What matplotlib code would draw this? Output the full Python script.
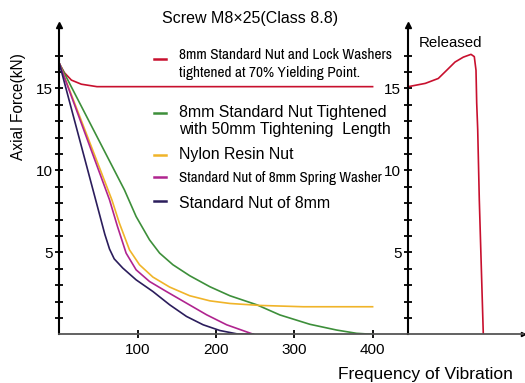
import numpy as np
import matplotlib.pyplot as plt
from matplotlib.lines import Line2D

plt.rcParams['font.family'] = ['Liberation Sans', 'DejaVu Sans']

# データ (振動回数 vs 軸力)
red_x = [0, 6.4, 15.3, 28, 48, 400]
red_y = [16.5, 15.95, 15.5, 15.25, 15.1, 15.1]

green_x = [0, 83.1, 98, 115.1, 128, 145, 166.5, 192.2, 217.8, 252.1, 281.6, 319.9, 354, 379.5, 400]
green_y = [16.5, 8.8, 7.18, 5.76, 4.95, 4.24, 3.57, 2.9, 2.35, 1.8, 1.18, 0.61, 0.26, 0.06, 0.0]

yellow_x = [0, 67, 76.6, 89.5, 102.3, 119.4, 140.8, 166.5, 192.2, 217.8, 256.3, 311.4, 400]
yellow_y = [16.5, 8.2, 6.78, 5.15, 4.24, 3.49, 2.88, 2.35, 2.04, 1.88, 1.76, 1.68, 1.68]

purple_x = [0, 64, 74, 85.2, 98, 115.1, 136.6, 162.3, 188, 213.6, 247.8]
purple_y = [16.5, 8.2, 6.6, 4.95, 3.93, 3.22, 2.61, 1.9, 1.19, 0.58, 0.0]

navy_x = [0, 58, 64, 70, 80.9, 98, 119.4, 140.8, 162.3, 183.6, 205, 226.4, 247.8]
navy_y = [16.5, 6.1, 5.2, 4.6, 4.04, 3.32, 2.61, 1.8, 1.09, 0.58, 0.23, 0.03, 0.0]

# 緩み後 (Released)
rel_x = [0, 17, 30, 38.4, 46.7, 55, 62.7, 66, 67.7, 68.4, 69.4, 71, 75]
rel_y = [15.1, 15.3, 15.6, 16.1, 16.6, 16.9, 17.07, 16.93, 16.1, 14.1, 12.5, 8.2, 0.0]

c_red = '#c8102e'
c_green = '#3d8f3a'
c_yellow = '#f0b429'
c_purple = '#b0248f'
c_navy = '#2b1d5c'
c_axis = '#555555'

fig = plt.figure(figsize=(5.25, 3.83), dpi=100)
y0 = 334.3
bot = 1 - y0 / 383
hgt = (y0 - 25) / 383
ax1 = fig.add_axes([59.4 / 525, bot, (408.3 - 59.4) / 525, hgt])
ax2 = fig.add_axes([408.3 / 525, bot, (523 - 408.3) / 525, hgt])

lw = 1.2
ax1.plot(red_x, red_y, color=c_red, lw=lw)
ax1.plot(green_x, green_y, color=c_green, lw=lw)
ax1.plot(yellow_x, yellow_y, color=c_yellow, lw=lw)
ax1.plot(purple_x, purple_y, color=c_purple, lw=lw)
ax1.plot(navy_x, navy_y, color=c_navy, lw=lw)
ax2.plot(rel_x, rel_y, color=c_red, lw=lw)

ymax = (y0 - 25) / 16.4
for ax in (ax1, ax2):
    ax.set_ylim(0, ymax)
    ax.spines['top'].set_visible(False)
    ax.spines['right'].set_visible(False)
    ax.spines['bottom'].set_color(c_axis)
    ax.spines['bottom'].set_linewidth(1.3)
    ax.spines['left'].set_linewidth(1.5)
    ax.set_yticks([5, 10, 15])
    ax.set_yticks([1, 2, 3, 4, 6, 7, 8, 9, 11, 12, 13, 14, 16, 17], minor=True)
    ax.tick_params(axis='y', which='both', direction='inout', length=6, width=1.3,
                   labelsize=11, pad=2)
    ax.set_facecolor('none')
    # 矢印
    ax.plot([0], [1], marker='^', color='black', markersize=5,
            transform=ax.transAxes, clip_on=False)

ax1.set_xlim(0, (408.3 - 59.4) / 0.783)
ax1.set_xticks([100, 200, 300, 400])
ax1.set_xticklabels(['100', '200', '300', '400'])
ax1.tick_params(axis='x', direction='inout', length=6, width=1.3, labelsize=11, pad=3)

ax2.set_xlim(0, 523 - 408.3)
ax2.set_xticks([])
ax2.plot([1], [0], marker='>', color='black', markersize=3,
         transform=ax2.transAxes, clip_on=False)

ax1.set_ylabel('Axial Force(kN)', fontsize=11.2)
ax1.yaxis.set_label_coords((26 - 59.4) / 348.9, (y0 - 107) / (y0 - 25))

fig.text(250 / 525, 1 - 19 / 383, 'Screw M8\u00d725(Class 8.8)', fontsize=11.5,
         ha='center', va='center')
fig.text(450 / 525, 1 - 43 / 383, 'Released', fontsize=10.8, ha='center', va='center')
fig.text(425 / 525, 1 - 375 / 383, 'Frequency of Vibration', fontsize=12.5,
         ha='center', va='center')

# 凡例
narrow = ['Archivo Narrow', 'Liberation Sans', 'DejaVu Sans']
legend = [
    (c_red, 59, ['8mm Standard Nut and Lock Washers', 'tightened at 70% Yielding Point.'], narrow, 11.0, [55, 73]),
    (c_green, 113, ['8mm Standard Nut Tightened', 'with 50mm Tightening  Length'], None, 11.4, [112, 130]),
    (c_yellow, 155, ['Nylon Resin Nut'], None, 11.4, [155]),
    (c_purple, 177, ['Standard Nut of 8mm Spring Washer'], narrow, 10.8, [178]),
    (c_navy, 201, ['Standard Nut of 8mm'], None, 11.4, [203]),
]
for col, my, lines, fam, fs, ys in legend:
    fig.add_artist(Line2D([154 / 525, 166 / 525], [1 - my / 383, 1 - my / 383],
                          color=col, lw=1.8))
    for t, ty in zip(lines, ys):
        kw = {}
        if fam is not None:
            kw['family'] = fam
        fig.text(179 / 525, 1 - ty / 383, t, fontsize=fs, ha='left', va='center', **kw)

fig.savefig('out.png', dpi=100)
